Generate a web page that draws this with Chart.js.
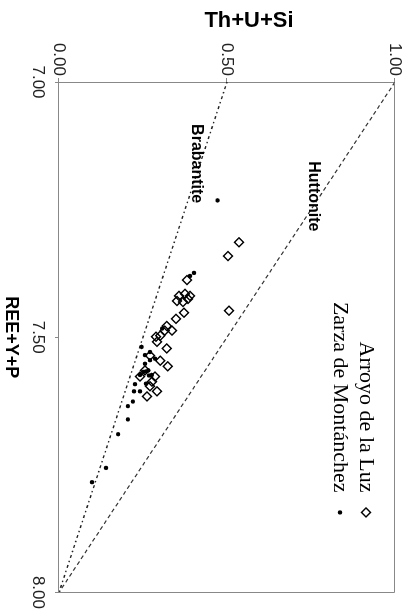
<!DOCTYPE html>
<html><head><meta charset="utf-8">
<script src="https://cdn.jsdelivr.net/npm/chart.js@4.4.0/dist/chart.umd.min.js"></script>
<style>
html,body{margin:0;padding:0;background:#fff;overflow:hidden;width:412px;height:616px;}
#wrap{position:absolute;left:0;top:0;width:616px;height:412px;transform-origin:0 0;transform:translateX(412px) rotate(90deg);}
canvas{display:block;}
</style></head><body>
<div id="wrap"><canvas id="c" width="616" height="412"></canvas></div>
<script>
// ---- data ----
const xTicks = [7.00, 7.50, 8.00];          // REE+Y+P
const yTicks = [0.00, 0.50, 1.00];          // Th+U+Si
const xTitle = 'REE+Y+P';
const yTitle = 'Th+U+Si';
const seriesNames = ['Arroyo de la Luz', 'Zarza de Montánchez'];
const lineNames = ['Huttonite', 'Brabantite'];

const arroyoX = [7.314,7.341,7.448,7.388,7.419,7.415,7.419,7.429,7.431,7.425,7.452,7.464,7.478,7.487,7.487,7.499,7.497,7.509,7.522,7.557,7.606,7.616,7.587,7.536,7.546,7.565,7.577,7.596,7.577];
const arroyoY = [0.536,0.503,0.506,0.381,0.357,0.375,0.390,0.351,0.369,0.384,0.372,0.348,0.321,0.336,0.315,0.289,0.301,0.292,0.321,0.324,0.292,0.262,0.277,0.271,0.301,0.256,0.286,0.271,0.241];

const zarzaX = [7.232,7.380,7.374,7.483,7.519,7.529,7.535,7.542,7.545,7.552,7.568,7.565,7.574,7.574,7.592,7.606,7.606,7.591,7.575,7.567,7.635,7.626,7.661,7.690,7.756,7.784];
const zarzaY = [0.472,0.390,0.402,0.307,0.246,0.271,0.256,0.286,0.271,0.256,0.251,0.266,0.241,0.276,0.226,0.241,0.223,0.259,0.268,0.259,0.205,0.220,0.205,0.176,0.140,0.098];

const huttoniteX = [7.00, 8.00];
const huttoniteY = [1.00, 0.00];
const brabantiteX = [7.00, 8.00];
const brabantiteY = [0.50, 0.00];

// ---- helpers ----
const pts = (xs, ys) => xs.map((v, i) => ({x: v, y: ys[i]}));
const SANS = '"Liberation Sans", Arial, sans-serif';
const SERIF = '"Liberation Serif", "Times New Roman", serif';

const overlay = {
  id: 'overlay',
  afterDraw(chart) {
    const {ctx, chartArea: a, scales: {x, y}} = chart;
    ctx.save();
    // remaining sides of plot frame
    ctx.strokeStyle = '#888';
    ctx.lineWidth = 1;
    ctx.beginPath();
    ctx.moveTo(Math.round(a.left) + 0.5, Math.round(a.top) + 0.5);
    ctx.lineTo(Math.round(a.right) + 0.5, Math.round(a.top) + 0.5);
    ctx.lineTo(Math.round(a.right) + 0.5, Math.round(a.bottom) + 0.5);
    ctx.stroke();

    // y-axis title
    ctx.save();
    ctx.translate(21, (a.top + a.bottom) / 2 - 22);
    ctx.rotate(-Math.PI / 2);
    ctx.font = 'bold 22px ' + SANS;
    ctx.fillStyle = '#000';
    ctx.textAlign = 'center';
    ctx.textBaseline = 'middle';
    ctx.fillText(yTitle, 0, 0);
    ctx.restore();

    // reference line labels
    ctx.font = 'bold 16px ' + SANS;
    ctx.fillStyle = '#000';
    ctx.textAlign = 'center';
    ctx.textBaseline = 'middle';
    ctx.fillText(lineNames[1], x.getPixelForValue(7.160), y.getPixelForValue(0.408));
    ctx.fillText(lineNames[0], x.getPixelForValue(7.224), y.getPixelForValue(0.757));

    // legend (text left, marker right)
    const items = chart.data.datasets.filter(d => d.inLegend);
    items.forEach((d, i) => {
      const yy = a.top + 29 + i * 26;
      ctx.font = '22px ' + SERIF;
      ctx.fillStyle = '#000';
      ctx.textAlign = 'right';
      ctx.textBaseline = 'middle';
      ctx.fillText(d.label, a.right - 100, yy);
      ctx.fillStyle = d.backgroundColor;
      ctx.strokeStyle = d.borderColor;
      ctx.lineWidth = d.borderWidth;
      Chart.helpers.drawPoint(ctx, {pointStyle: d.pointStyle, radius: d.pointRadius, borderWidth: d.borderWidth, rotation: 0}, a.right - 80, yy);
    });
    ctx.restore();
  }
};

new Chart(document.getElementById('c'), {
  type: 'scatter',
  data: {
    datasets: [
      {label: lineNames[0], type: 'line', data: pts(huttoniteX, huttoniteY), borderColor: '#333', borderWidth: 1.2, borderDash: [4, 3], pointRadius: 0, fill: false, order: 3},
      {label: lineNames[1], type: 'line', data: pts(brabantiteX, brabantiteY), borderColor: '#222', borderWidth: 1.4, borderDash: [1.5, 3, 3, 3], pointRadius: 0, fill: false, order: 3},
      {label: seriesNames[0], inLegend: true, data: pts(arroyoX, arroyoY), pointStyle: 'rectRot', pointRadius: 4.5, borderWidth: 1.4, borderColor: '#000', backgroundColor: 'rgba(255,255,255,0)', order: 2},
      {label: seriesNames[1], inLegend: true, data: pts(zarzaX, zarzaY), pointStyle: 'circle', pointRadius: 2.2, borderWidth: 0, borderColor: '#000', backgroundColor: '#000', order: 1}
    ]
  },
  options: {
    responsive: false,
    animation: false,
    devicePixelRatio: 1,
    layout: {padding: {left: 8, top: 17, right: 21, bottom: 0}},
    plugins: {legend: {display: false}, tooltip: {enabled: false}},
    scales: {
      x: {
        type: 'linear', position: 'bottom', min: xTicks[0], max: xTicks[xTicks.length - 1],
        afterBuildTicks: s => { s.ticks = xTicks.map(v => ({value: v})); },
        afterFit: s => { s.height = 59; },
        ticks: {font: {family: SANS, size: 17}, color: '#222', padding: 7, maxRotation: 0, minRotation: 0, callback: v => Number(v).toFixed(2)},
        grid: {drawOnChartArea: false, drawTicks: true, tickLength: 4, color: '#888'},
        border: {display: true, color: '#888'},
        title: {display: true, text: xTitle, color: '#000', font: {family: SANS, size: 18, weight: 'bold'}, padding: 0}
      },
      y: {
        type: 'linear', position: 'left', min: yTicks[0], max: yTicks[yTicks.length - 1],
        afterBuildTicks: s => { s.ticks = yTicks.map(v => ({value: v})); },
        afterFit: s => { s.width = 74; },
        ticks: {font: {family: SANS, size: 17}, color: '#222', padding: 2, callback: v => Number(v).toFixed(2)},
        grid: {drawOnChartArea: false, drawTicks: true, tickLength: 4, color: '#888'},
        border: {display: true, color: '#888'},
        title: {display: false}
      }
    }
  },
  plugins: [overlay]
});
</script>
</body></html>
